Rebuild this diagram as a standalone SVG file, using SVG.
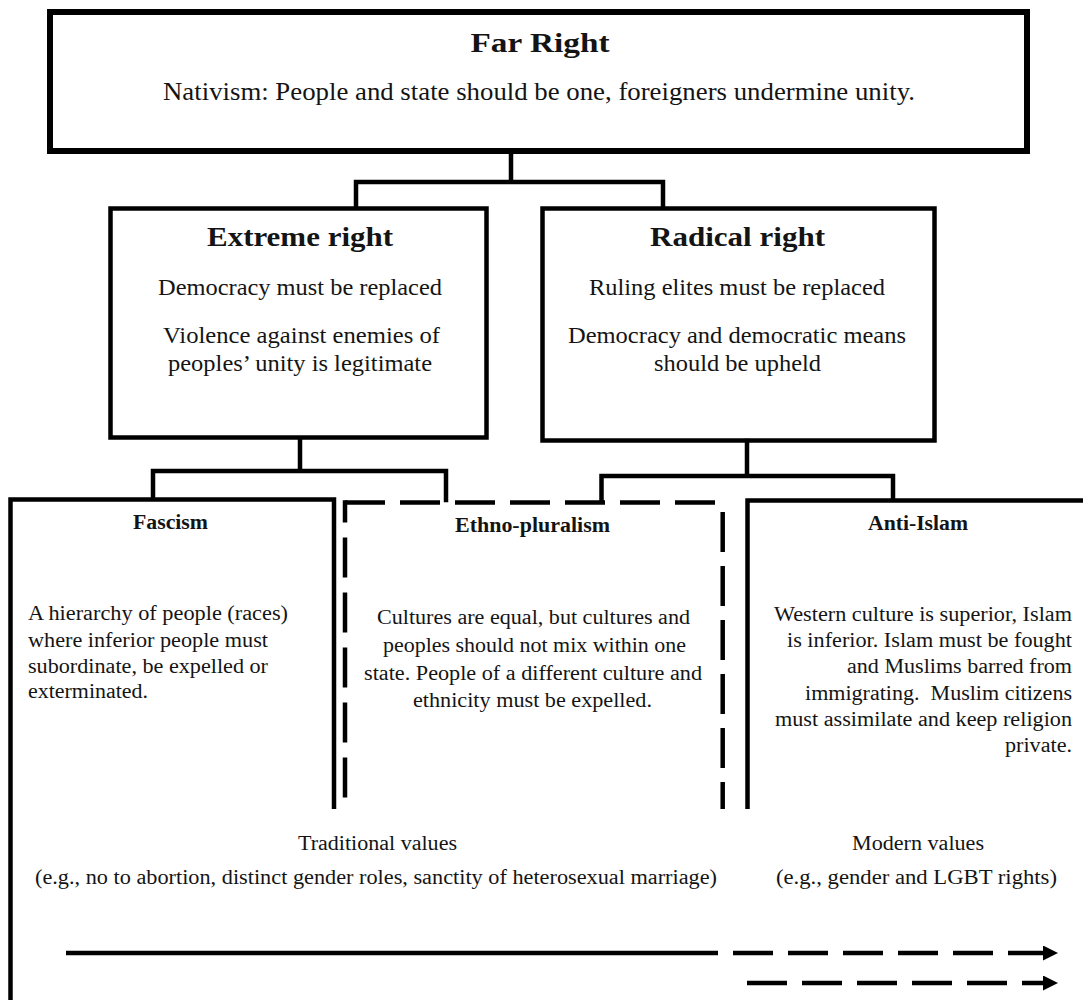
<svg xmlns="http://www.w3.org/2000/svg" width="1083" height="1000" viewBox="0 0 1083 1000">
  <style>
    .box { fill: none; stroke: #000; stroke-width: 4.5; stroke-linejoin: miter; }
    .top { fill: #fff; stroke: #000; stroke-width: 6; }
    .dash { fill: none; stroke: #000; stroke-width: 4.5; }
    .wire { fill: none; stroke: #000; stroke-width: 4.5; stroke-linecap: square; }
    .arrow { fill: none; stroke: #000; stroke-width: 4.5; }
    text { fill: #141414; }
    .h1 { font-size: 28px; font-weight: bold; }
    .h2 { font-size: 27px; font-weight: bold; }
    .h3 { font-size: 20px; font-weight: bold; }
    .lead { font-size: 25px; }
    .sub { font-size: 22.5px; }
    .body { font-size: 20px; }
    .mid { text-anchor: middle; }
    .end { text-anchor: end; }
  </style>
  <defs>
    <marker id="head" markerUnits="userSpaceOnUse" markerWidth="16" markerHeight="16" refX="0" refY="7.5" orient="auto">
      <path d="M0,0 L15,7.5 L0,15 z" fill="#000"/>
    </marker>
  </defs>

  <rect width="1083" height="1000" fill="#fff"/>

  <!-- connectors between tiers -->
  <g id="connectors">
    <path class="wire" d="M511,154 V182 M356,182 H663 M356,182 V206 M663,182 V206"/>
    <path class="wire" d="M300,440 V471 M153,471 H446 M153,471 V497 M446,471 V500"/>
    <path class="wire" d="M747,441 V476 M601.5,476 H893 M601.5,476 V500 M893,476 V498"/>
  </g>

  <g font-family="'Liberation Serif', Tinos, 'Times New Roman', Times, serif">
  <!-- top tier -->
  <g id="far-right">
    <rect class="top" x="50" y="12" width="977" height="139"/>
    <text class="h1 mid" x="540" y="52" textLength="139" lengthAdjust="spacingAndGlyphs">Far Right</text>
    <text class="lead mid" x="539" y="100" textLength="752" lengthAdjust="spacingAndGlyphs">Nativism: People and state should be one, foreigners undermine unity.</text>
  </g>

  <!-- middle tier -->
  <g id="extreme-right">
    <rect class="box" x="110.5" y="208.5" width="376" height="229"/>
    <text class="h2 mid" x="300" y="246" textLength="186" lengthAdjust="spacingAndGlyphs">Extreme right</text>
    <text class="sub mid" x="300" y="295" textLength="284" lengthAdjust="spacingAndGlyphs">Democracy must be replaced</text>
    <text class="sub mid" x="301.5" y="343" textLength="277" lengthAdjust="spacingAndGlyphs">Violence against enemies of</text>
    <text class="sub mid" x="300" y="371" textLength="264" lengthAdjust="spacingAndGlyphs">peoples’ unity is legitimate</text>
  </g>

  <g id="radical-right">
    <rect class="box" x="542.5" y="208.5" width="392" height="232"/>
    <text class="h2 mid" x="737.5" y="246" textLength="175" lengthAdjust="spacingAndGlyphs">Radical right</text>
    <text class="sub mid" x="737" y="295" textLength="296" lengthAdjust="spacingAndGlyphs">Ruling elites must be replaced</text>
    <text class="sub mid" x="737" y="343" textLength="338" lengthAdjust="spacingAndGlyphs">Democracy and democratic means</text>
    <text class="sub mid" x="737.5" y="371" textLength="167" lengthAdjust="spacingAndGlyphs">should be upheld</text>
  </g>

  <!-- bottom tier -->
  <g id="fascism">
    <path class="box" d="M10.5,1005 V499.5 H334 V809"/>
    <text class="h3 mid" x="170.5" y="529" textLength="75" lengthAdjust="spacingAndGlyphs">Fascism</text>
    <text class="body" x="28" y="620" textLength="260" lengthAdjust="spacingAndGlyphs">A hierarchy of people (races)</text>
    <text class="body" x="28" y="647" textLength="240" lengthAdjust="spacingAndGlyphs">where inferior people must</text>
    <text class="body" x="28" y="673" textLength="240" lengthAdjust="spacingAndGlyphs">subordinate, be expelled or</text>
    <text class="body" x="28" y="698" textLength="120" lengthAdjust="spacingAndGlyphs">exterminated.</text>
  </g>

  <g id="ethno-pluralism">
    <path class="dash" d="M345,500.25 V805" stroke-dasharray="40 15" stroke-dashoffset="17.75"/>
    <path class="dash" d="M345,502.5 H722.7" stroke-dasharray="40 15"/>
    <path class="dash" d="M722.7,500.25 V809" stroke-dasharray="40 14" stroke-dashoffset="42.25"/>
    <text class="h3 mid" x="532.5" y="532" textLength="155" lengthAdjust="spacingAndGlyphs">Ethno-pluralism</text>
    <text class="body mid" x="533.5" y="624" textLength="313" lengthAdjust="spacingAndGlyphs">Cultures are equal, but cultures and</text>
    <text class="body mid" x="534.5" y="652" textLength="303" lengthAdjust="spacingAndGlyphs">peoples should not mix within one</text>
    <text class="body mid" x="533" y="680" textLength="338" lengthAdjust="spacingAndGlyphs">state. People of a different culture and</text>
    <text class="body mid" x="532.5" y="707" textLength="239" lengthAdjust="spacingAndGlyphs">ethnicity must be expelled.</text>
  </g>

  <g id="anti-islam">
    <path class="box" d="M747.5,809 V500.5 H1090"/>
    <text class="h3 mid" x="918" y="530" textLength="100" lengthAdjust="spacingAndGlyphs">Anti-Islam</text>
    <text class="body end" x="1072" y="621" textLength="298" lengthAdjust="spacingAndGlyphs">Western culture is superior, Islam</text>
    <text class="body end" x="1072" y="647" textLength="285" lengthAdjust="spacingAndGlyphs">is inferior. Islam must be fought</text>
    <text class="body end" x="1072" y="673" textLength="225" lengthAdjust="spacingAndGlyphs">and Muslims barred from</text>
    <text class="body end" x="1072" y="700" textLength="267" lengthAdjust="spacingAndGlyphs" xml:space="preserve">immigrating.  Muslim citizens</text>
    <text class="body end" x="1072" y="726" textLength="297" lengthAdjust="spacingAndGlyphs">must assimilate and keep religion</text>
    <text class="body end" x="1072" y="752" textLength="67" lengthAdjust="spacingAndGlyphs">private.</text>
  </g>

  <!-- values spectrum along the bottom -->
  <g id="values">
    <text class="body mid" x="377.5" y="850" textLength="159" lengthAdjust="spacingAndGlyphs">Traditional values</text>
    <text class="body mid" x="376" y="884" textLength="682" lengthAdjust="spacingAndGlyphs">(e.g., no to abortion, distinct gender roles, sanctity of heterosexual marriage)</text>
    <text class="body mid" x="918" y="850" textLength="132" lengthAdjust="spacingAndGlyphs">Modern values</text>
    <text class="body mid" x="916.5" y="884" textLength="281" lengthAdjust="spacingAndGlyphs">(e.g., gender and LGBT rights)</text>
    <path class="arrow" d="M66,953 H678"/>
    <path class="arrow" d="M678,953 H1043" stroke-dasharray="40 15" marker-end="url(#head)"/>
    <path class="arrow" d="M747,983 H1043" stroke-dasharray="40 15" marker-end="url(#head)"/>
  </g>
  </g>
</svg>
